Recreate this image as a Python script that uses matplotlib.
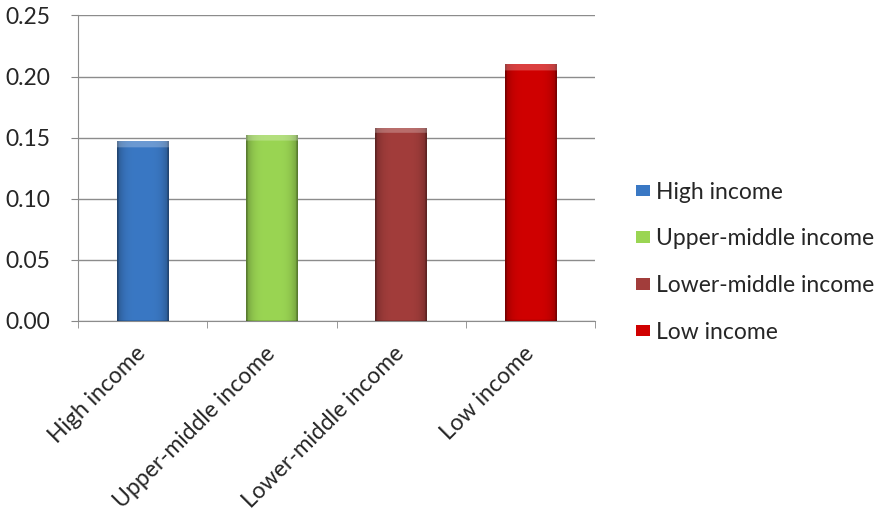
"""Bar chart of a ratio by World Bank income group."""
import numpy as np
import matplotlib
matplotlib.use("Agg")
import matplotlib.pyplot as plt
from matplotlib.colors import to_rgb

GROUPS = ["High income", "Upper-middle income", "Lower-middle income", "Low income"]
VALUES = [0.147, 0.152, 0.158, 0.210]
COLORS = ["#3A78C4", "#9AD553", "#A23D3B", "#D00000"]
YTICKS = [0.00, 0.05, 0.10, 0.15, 0.20, 0.25]


def shade(color, nx=60, ny=200, bevel=0.03):
    """Build an RGB image with darker sides and a lighter top bevel."""
    base = np.array(to_rgb(color))
    u = np.linspace(-1, 1, nx)
    side = 1.0 - 0.28 * np.abs(u) ** 4
    side[:2] *= 0.8
    side[-2:] *= 0.8
    img = np.ones((ny, nx, 3)) * base
    img *= side[None, :, None]
    v = np.linspace(1, 0, ny)  # 1 at top, 0 at bottom
    top = v > 1 - bevel
    img[top] = img[top] + (1 - img[top]) * 0.25
    img[-1:] *= 0.85
    return np.clip(img, 0, 1)


def main():
    plt.rcParams["font.family"] = ["Lato", "DejaVu Sans"]
    fig = plt.figure(figsize=(8.91, 5.14), dpi=100)
    ax = fig.add_axes([0.0875, 0.3755, 0.5805, 0.5945])

    x = np.arange(len(GROUPS))
    bars = ax.bar(x, VALUES, width=0.4, color=COLORS, zorder=2, label=GROUPS)

    # gradient fill clipped to each bar
    for bar, col in zip(bars, COLORS):
        h = bar.get_height()
        bev = 0.0045 / h
        im = ax.imshow(shade(col, bevel=bev), aspect="auto", zorder=3,
                       extent=[bar.get_x(), bar.get_x() + bar.get_width(), 0, h],
                       interpolation="bilinear")
        im.set_clip_path(bar)

    ax.set_xlim(-0.5, len(GROUPS) - 0.5)
    ax.set_ylim(0, 0.25)
    ax.set_yticks(YTICKS)
    ax.set_yticklabels([f"{t:.2f}" for t in YTICKS])
    ax.set_xticks(x)
    ax.set_xticklabels(GROUPS, rotation=45, ha="right", va="center",
                       rotation_mode="anchor")
    ax.set_xticks(np.arange(len(GROUPS) + 1) - 0.5, minor=True)
    ax.tick_params(axis="x", which="major", length=0, pad=21)
    ax.tick_params(axis="x", which="minor", length=5, color="#888888")
    ax.tick_params(axis="y", length=5, color="#888888", pad=15)
    ax.tick_params(labelsize=16.5, labelcolor="#262626")

    ax.grid(axis="y", color="#8c8c8c", lw=1.0, zorder=0)
    ax.set_axisbelow(True)
    for s in ("top", "right"):
        ax.spines[s].set_visible(False)
    for s in ("left", "bottom"):
        ax.spines[s].set_color("#8c8c8c")

    fig.legend(handles=list(bars), labels=GROUPS, loc="center left",
               bbox_to_anchor=(0.714, 0.49), frameon=False, fontsize=16.5,
               labelspacing=1.12, handlelength=0.6, handleheight=0.4,
               handletextpad=0.25, borderpad=0, borderaxespad=0,
               labelcolor="#262626")

    fig.savefig("out.png", dpi=100)


if __name__ == "__main__":
    main()
